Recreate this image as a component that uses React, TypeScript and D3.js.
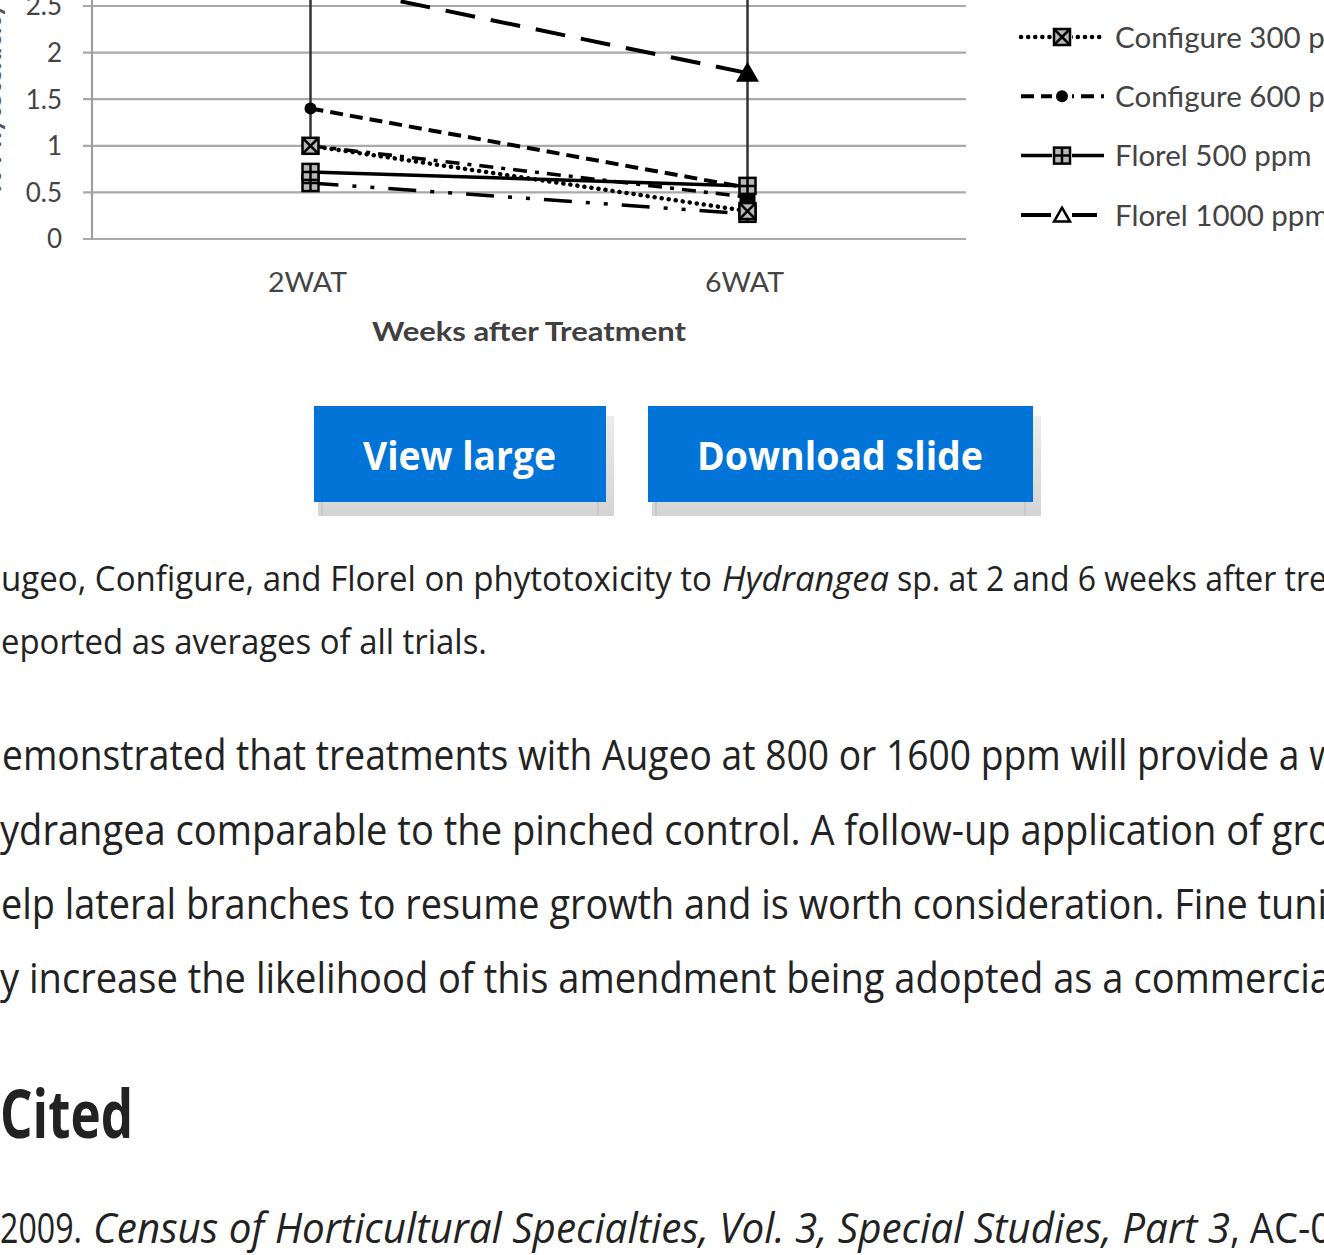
import React, { useEffect, useRef } from 'react';
import * as d3 from 'd3';

// chart data
const categories = ['2WAT', '6WAT'];
const yTicks = [0, 0.5, 1, 1.5, 2, 2.5];
const seriesNames = [
  'Augeo 800 ppm',
  'Augeo 1600 ppm',
  'Configure 300 ppm',
  'Configure 600 ppm',
  'Florel 500 ppm',
  'Florel 1000 ppm',
];
const augeo800 = [1.0, 0.45];
const augeo1600 = [0.6, 0.27];
const configure300 = [1.0, 0.3];
const configure600 = [1.4, 0.55];
const florel500 = [0.72, 0.57];
const florel1000 = [2.75, 1.78];
const florel1000Err = [1.75, 1.18];

const seriesValues = [augeo800, augeo1600, configure300, configure600, florel500, florel1000];

// line look for each series, same order as the names
const seriesStyle = [
  { dash: '14,8,4,8', width: 3.5, marker: 'square', cap: 'butt' },
  { dash: '28,14,4,14,4,14', width: 3.5, marker: 'grid', cap: 'butt' },
  { dash: '0.1,7', width: 4.5, marker: 'boxX', cap: 'round' },
  { dash: '13,7', width: 4, marker: 'circle', cap: 'butt' },
  { dash: null, width: 3.5, marker: 'grid', cap: 'butt' },
  { dash: '30,16', width: 4, marker: 'triangle', cap: 'butt' },
];

// surrounding page text
const captionRuns = [
  { text: 'ugeo, Configure, and Florel on phytotoxicity to', x: 1, y: 591, w: 711, size: 35 },
  { text: 'Hydrangea', x: 722, y: 591, w: 167, size: 35, italic: true },
  { text: 'sp. at 2 and 6 weeks after tre', x: 897, y: 591, w: 430, size: 35 },
  { text: 'eported as averages of all trials.', x: 1, y: 654, w: 486, size: 35 },
  { text: 'emonstrated that treatments with Augeo at 800 or 1600 ppm will provide a w', x: 2, y: 770, w: 1336, size: 42 },
  { text: 'ydrangea comparable to the pinched control. A follow-up application of gro', x: 0, y: 845, w: 1331, size: 42 },
  { text: 'elp lateral branches to resume growth and is worth consideration. Fine tuni', x: 1, y: 919, w: 1326, size: 42 },
  { text: 'y increase the likelihood of this amendment being adopted as a commercia', x: 0, y: 993, w: 1331, size: 42 },
  { text: 'Cited', x: 0, y: 1138, w: 133, size: 66, bold: true },
  { text: '2009.', x: 0, y: 1243, w: 82, size: 42 },
  { text: 'Census of Horticultural Specialties, Vol. 3, Special Studies, Part 3', x: 93, y: 1243, w: 1137, size: 42, italic: true },
  { text: ', AC-0', x: 1230, y: 1243, w: 102, size: 42 },
];

const buttons = [
  { label: 'View large', x0: 314, x1: 606, tx: 363, tw: 193 },
  { label: 'Download slide', x0: 648, x1: 1033, tx: 697, tw: 286 },
];

const W = 1324;
const H = 1255;
const chartFont = 'Lato, "Open Sans", sans-serif';
const pageFont = '"Open Sans", "Noto Sans", sans-serif';

const drawMarker = (g, kind, cx, cy, legend = false) => {
  if (kind === 'circle') {
    g.append('circle').attr('cx', cx).attr('cy', cy).attr('r', 6).attr('fill', '#000');
  } else if (kind === 'triangle') {
    g.append('path')
      .attr('d', d3.symbol(d3.symbolTriangle, legend ? 110 : 150)())
      .attr('transform', `translate(${cx},${cy + 2})`)
      .attr('fill', legend ? '#fff' : '#000')
      .attr('stroke', '#000')
      .attr('stroke-width', 2.5);
  } else if (kind === 'square') {
    g.append('rect').attr('x', cx - 8).attr('y', cy - 6).attr('width', 16).attr('height', 12).attr('fill', '#000');
  } else if (kind === 'boxX' || kind === 'grid') {
    const s = 8;
    g.append('rect')
      .attr('x', cx - s).attr('y', cy - s).attr('width', 2 * s).attr('height', 2 * s)
      .attr('fill', '#b8b8b8').attr('stroke', '#000').attr('stroke-width', 2.5);
    const path = kind === 'boxX'
      ? `M${cx - s},${cy - s}L${cx + s},${cy + s}M${cx + s},${cy - s}L${cx - s},${cy + s}`
      : `M${cx},${cy - s}V${cy + s}M${cx - s},${cy}H${cx + s}`;
    g.append('path').attr('d', path).attr('stroke', '#000').attr('stroke-width', 2.5);
  }
};

const renderChart = (svgNode) => {
  const svg = d3.select(svgNode);
  svg.selectAll('*').remove();

  const x = d3.scalePoint().domain(categories).range([92, 966]).padding(0.5);
  const y = d3.scaleLinear().domain([0, 2.5]).range([239, 6]);

  const chart = svg.append('g');

  // gridlines with their little tick stubs
  chart.selectAll('line.grid').data(yTicks).enter().append('line')
    .attr('x1', 83).attr('x2', 966)
    .attr('y1', d => y(d)).attr('y2', d => y(d))
    .attr('stroke', '#a9a9a9').attr('stroke-width', 2.2);

  chart.append('line')
    .attr('x1', 92).attr('x2', 92).attr('y1', y(0)).attr('y2', -10)
    .attr('stroke', '#a0a0a0').attr('stroke-width', 2.2);

  chart.selectAll('text.ytick').data(yTicks).enter().append('text')
    .attr('x', 62).attr('y', d => y(d)).attr('dy', '0.36em')
    .attr('text-anchor', 'end')
    .attr('font-family', chartFont).attr('font-size', 26).attr('fill', '#444')
    .text(d => d3.format('~g')(d));

  chart.selectAll('text.xtick').data(categories).enter().append('text')
    .attr('x', d => x(d) - 3).attr('y', 292)
    .attr('text-anchor', 'middle')
    .attr('font-family', chartFont).attr('font-size', 27).attr('fill', '#444')
    .attr('textLength', 79).attr('lengthAdjust', 'spacingAndGlyphs')
    .text(d => d);

  chart.append('text')
    .attr('x', 372).attr('y', 341)
    .attr('font-family', chartFont).attr('font-size', 27).attr('font-weight', 700).attr('fill', '#404040')
    .attr('textLength', 314).attr('lengthAdjust', 'spacingAndGlyphs')
    .text('Weeks after Treatment');

  // y title, only its edge shows in the crop
  chart.append('text')
    .attr('transform', 'translate(1,98) rotate(-90)')
    .attr('text-anchor', 'middle')
    .attr('font-family', chartFont).attr('font-size', 27).attr('font-weight', 700).attr('fill', '#555')
    .text('% Phytotoxicity');

  // error bars for Florel 1000
  const errG = chart.append('g');
  florel1000.forEach((v, i) => {
    const cx = x(categories[i]);
    const lo = y(v - florel1000Err[i]);
    const hi = y(v + florel1000Err[i]);
    errG.append('line').attr('x1', cx).attr('x2', cx).attr('y1', lo).attr('y2', hi)
      .attr('stroke', '#333').attr('stroke-width', 2.5);
    errG.append('line').attr('x1', cx - 7).attr('x2', cx + 7).attr('y1', lo).attr('y2', lo)
      .attr('stroke', '#333').attr('stroke-width', 2.5);
    errG.append('line').attr('x1', cx - 7).attr('x2', cx + 7).attr('y1', hi).attr('y2', hi)
      .attr('stroke', '#333').attr('stroke-width', 2.5);
  });

  const line = d3.line().x((d, i) => x(categories[i])).y(d => y(d));

  seriesValues.forEach((vals, si) => {
    const st = seriesStyle[si];
    chart.append('path')
      .attr('d', line(vals))
      .attr('fill', 'none').attr('stroke', '#000')
      .attr('stroke-width', st.width)
      .attr('stroke-linecap', st.cap)
      .attr('stroke-dasharray', st.dash);
  });
  seriesValues.forEach((vals, si) => {
    vals.forEach((v, i) => drawMarker(chart, seriesStyle[si].marker, x(categories[i]), y(v)));
  });

  // legend (top entries sit above the visible crop)
  const legend = svg.append('g');
  seriesNames.forEach((name, i) => {
    const ly = 37 + (i - 2) * 59.3;
    const st = seriesStyle[i];
    legend.append('line')
      .attr('x1', 1021).attr('x2', 1104).attr('y1', ly).attr('y2', ly)
      .attr('stroke', '#000').attr('stroke-width', st.width)
      .attr('stroke-linecap', st.cap)
      .attr('stroke-dasharray', st.dash);
    legend.append('rect').attr('x', 1052).attr('y', ly - 10).attr('width', 20).attr('height', 20).attr('fill', '#fff');
    drawMarker(legend, st.marker, 1062, ly, true);
    legend.append('text')
      .attr('x', 1115).attr('y', ly).attr('dy', '0.36em')
      .attr('font-family', chartFont).attr('font-size', 29.5).attr('fill', '#444')
      .text(name);
  });

  // buttons
  const defs = svg.append('defs');
  const grad = defs.append('linearGradient').attr('id', 'btnShade').attr('x1', 0).attr('x2', 0).attr('y1', 0).attr('y2', 1);
  grad.append('stop').attr('offset', 0).attr('stop-color', '#ececec');
  grad.append('stop').attr('offset', 1).attr('stop-color', '#d4d4d4');

  buttons.forEach(b => {
    const bg = svg.append('g');
    bg.append('rect').attr('x', b.x0 + 4).attr('y', 416).attr('width', b.x1 - b.x0 + 4).attr('height', 100)
      .attr('fill', 'url(#btnShade)');
    bg.append('line').attr('x1', b.x0 + 8).attr('x2', b.x0 + 8).attr('y1', 502).attr('y2', 516)
      .attr('stroke', '#c4c4c4').attr('stroke-width', 1.5);
    bg.append('line').attr('x1', b.x1 - 8).attr('x2', b.x1 - 8).attr('y1', 502).attr('y2', 516)
      .attr('stroke', '#c4c4c4').attr('stroke-width', 1.5);
    bg.append('rect').attr('x', b.x0).attr('y', 406).attr('width', b.x1 - b.x0).attr('height', 96)
      .attr('fill', '#0274d7');
    bg.append('text')
      .attr('x', b.tx).attr('y', 470)
      .attr('font-family', pageFont).attr('font-size', 40).attr('font-weight', 700).attr('fill', '#fff')
      .attr('textLength', b.tw).attr('lengthAdjust', 'spacingAndGlyphs')
      .text(b.label);
  });

  // caption and body text
  svg.append('g').selectAll('text').data(captionRuns).enter().append('text')
    .attr('x', d => d.x).attr('y', d => d.y)
    .attr('font-family', pageFont)
    .attr('font-size', d => d.size)
    .attr('font-style', d => (d.italic ? 'italic' : 'normal'))
    .attr('font-weight', d => (d.bold ? 700 : 400))
    .attr('fill', '#222')
    .attr('textLength', d => d.w).attr('lengthAdjust', 'spacingAndGlyphs')
    .text(d => d.text);
};

const App = () => {
  const ref = useRef(null);
  useEffect(() => {
    if (ref.current) renderChart(ref.current);
  }, []);
  return (
    <div style={{ position: 'absolute', left: 0, top: 0, width: W, height: H, background: '#fff', overflow: 'hidden' }}>
      <svg ref={ref} width={W} height={H} style={{ display: 'block' }} />
    </div>
  );
};

export default App;
